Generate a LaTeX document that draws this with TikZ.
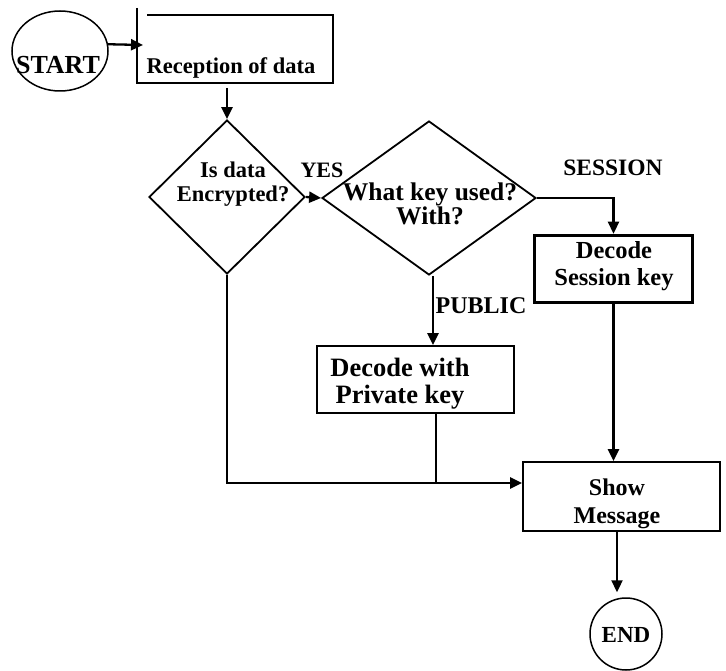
\documentclass[tikz,border=0pt]{standalone}
\usepackage{fontspec}
\setmainfont{Liberation Serif}
\usetikzlibrary{positioning}
\usetikzlibrary{shapes.geometric}
\usetikzlibrary{arrows.meta}

\begin{document}
\begin{tikzpicture}[x=1pt,y=-1pt,
	arr/.style={-{Triangle[length=12pt,width=11pt]},line width=2.3pt},
	line/.style={line width=1.8pt},
	txt/.style={font=\bfseries\fontsize{23}{25}\selectfont,inner sep=0pt,align=center},
	boxx/.style={draw,rectangle,line width=1.8pt,inner sep=0pt},
	decide/.style={draw,diamond,line width=1.8pt,inner sep=0pt}]

	\useasboundingbox[fill=white] (0,0) rectangle (726,671);

	%shapes
	\node[draw,ellipse,line width=1.5pt,minimum width=96pt,minimum height=80pt,inner sep=0pt] (start) at (60,51) {};
	\node[rectangle,minimum width=196pt,minimum height=68pt,inner sep=0pt] (recv) at (235,49) {};
	\node[decide,minimum width=156pt,minimum height=154pt] (enc) at (227,197) {};
	\node[decide,minimum width=214pt,minimum height=154pt] (key) at (429,198) {};
	\node[boxx,line width=3.5pt,minimum width=158pt,minimum height=67pt] (sess) at (613.5,269) {};
	\node[boxx,minimum width=197pt,minimum height=67pt] (priv) at (415.5,379.5) {};
	\node[boxx,minimum width=197pt,minimum height=69pt] (show) at (621.5,496.5) {};
	\node[draw,circle,line width=1.5pt,minimum size=72pt,inner sep=0pt] (endn) at (626,634) {};

	%the open box round the reception text
	\draw[line] ([yshift=7pt]recv.north west) -- (recv.south west) -- (recv.south east) -- (recv.north east) -- ([xshift=10pt]recv.north west);

	%texts
	\node[txt,font=\bfseries\fontsize{26}{27}\selectfont] (starttxt) at (58,65) {START};
	\node[txt,font=\bfseries\fontsize{22.5}{23}\selectfont] (recvtxt) at (231,68) {Reception of data};
	\node[txt,font=\bfseries\fontsize{22.5}{24}\selectfont] (enctxt) at (233,184) {Is data\\Encrypted?};
	\node[txt,font=\bfseries\fontsize{25.5}{20}\selectfont] (keytxt) at (430,204) {What key used?\\With?};
	\node[txt,font=\bfseries\fontsize{24.5}{27}\selectfont] (sesstxt) at (614,266) {Decode\\Session key};
	\node[txt,font=\bfseries\fontsize{26.5}{27}\selectfont] (privtxt) at (400,384) {Decode with\\Private key};
	\node[txt,font=\bfseries\fontsize{24}{28}\selectfont] (showtxt) at (617,504) {Show\\Message};
	\node[txt,font=\bfseries\fontsize{23}{24}\selectfont] (endtxt) at (626,635) {END};

	%labels on the connectors
	\node[txt,font=\bfseries\fontsize{22}{24}\selectfont] (yes) at (322,170) {YES};
	\node[txt,font=\bfseries\fontsize{23.5}{24}\selectfont] (session) at (613,168) {SESSION};
	\node[txt,font=\bfseries\fontsize{24}{26}\selectfont] (public) at (481,306) {PUBLIC};

	%connectors
	\coordinate (recvin) at (143,45);
	\coordinate (recvout) at (227,88);
	\coordinate (joint) at (436,483);
	\draw[arr] (start.8) -- (recvin);
	\draw[arr] (recvout) -- (enc.north);
	\draw[arr] (enc.east) -- (key.west);
	\draw[arr] (key.east) -| (sess.north);
	\draw[arr] ([xshift=4pt]key.south) -- ([xshift=4pt]key.south |- priv.north);
	\draw[arr] (sess.south) -- (sess.south |- show.north);
	\draw[arr] (enc.south) |- ([yshift=13.5pt]show.west);
	\draw[line] ([xshift=20.5pt]priv.south) -- (joint);
	\draw[arr] ([xshift=-4.5pt]show.south) -- ([xshift=-9pt,yshift=5pt]endn.north);

\end{tikzpicture}
\end{document}
